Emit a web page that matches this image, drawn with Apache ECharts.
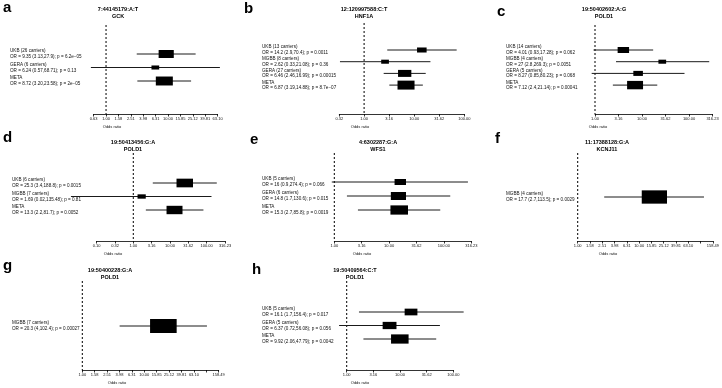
<!DOCTYPE html>
<html>
<head>
<meta charset="utf-8">
<script src="https://cdn.jsdelivr.net/npm/echarts@6/dist/echarts.min.js"></script>
<style>
html, body { margin: 0; padding: 0; background: #fff; }
#main { width: 722px; height: 388px; }
</style>
</head>
<body>
<div id="main"></div>
<script>
// ---- data ----
var panelLetters = ['a', 'b', 'c', 'd', 'e', 'f', 'g', 'h'];
var variants = ['7:44145179:A:T', '12:120997588:C:T', '19:50402602:A:G', '19:50413456:G:A',
                '4:6302287:G:A', '11:17388128:G:A', '19:50400228:G:A', '19:50409564:C:T'];
var genes = ['GCK', 'HNF1A', 'POLD1', 'POLD1', 'WFS1', 'KCNJ11', 'POLD1', 'POLD1'];

// a
var studiesA = ['UKB (26 carriers)', 'GERA (6 carriers)', 'META'];
var statsA = ['OR = 9.35 (3.13,27.9); p = 6.2e\u221205', 'OR = 6.24 (0.57,68.71); p = 0.13', 'OR = 8.72 (3.20,23.58); p = 2e\u221205'];
var orA = [9.35, 6.24, 8.72];
var lowA = [3.13, 0.57, 3.20];
var highA = [27.9, 68.71, 23.58];
var boxA = [0.57, 0.29, 0.64];
var ticksA = ['0.63', '1.00', '1.58', '2.51', '3.98', '6.31', '10.00', '15.85', '25.12', '39.81', '63.10'];
// b
var studiesB = ['UKB (13 carriers)', 'MGBB (8 carriers)', 'GERA (27 carriers)', 'META'];
var statsB = ['OR = 14.2 (2.9,70.4); p = 0.0011', 'OR = 2.62 (0.33,21.08); p = 0.36', 'OR = 6.46 (2.46,16.99); p = 0.00015', 'OR = 6.87 (3.19,14.88); p = 8.7e\u221207'];
var orB = [14.2, 2.62, 6.46, 6.87];
var lowB = [2.9, 0.33, 2.46, 3.19];
var highB = [70.4, 21.08, 16.99, 14.88];
var boxB = [0.36, 0.29, 0.5, 0.64];
var ticksB = ['0.32', '1.00', '3.16', '10.00', '31.62', '100.00'];
// c
var studiesC = ['UKB (14 carriers)', 'MGBB (4 carriers)', 'GERA (5 carriers)', 'META'];
var statsC = ['OR = 4.01 (0.93,17.28); p = 0.062', 'OR = 27 (2.8,269.3); p = 0.0051', 'OR = 8.27 (0.85,80.23); p = 0.068', 'OR = 7.12 (2.4,21.14); p = 0.00041'];
var orC = [4.01, 27, 8.27, 7.12];
var lowC = [0.93, 2.8, 0.85, 2.4];
var highC = [17.28, 269.3, 80.23, 21.14];
var boxC = [0.43, 0.29, 0.36, 0.6];
var ticksC = ['1.00', '3.16', '10.00', '31.62', '100.00', '316.23'];
// d
var studiesD = ['UKB (6 carriers)', 'MGBB (7 carriers)', 'META'];
var statsD = ['OR = 25.3 (3.4,188.8); p = 0.0015', 'OR = 1.69 (0.02,135.48); p = 0.81', 'OR = 13.3 (2.2,81.7); p = 0.0052'];
var orD = [25.3, 1.69, 13.3];
var lowD = [3.4, 0.02, 2.2];
var highD = [188.8, 135.48, 81.7];
var boxD = [0.62, 0.31, 0.6];
var ticksD = ['0.10', '0.32', '1.00', '3.16', '10.00', '31.62', '100.00', '316.23'];
// e
var studiesE = ['UKB (5 carriers)', 'GERA (6 carriers)', 'META'];
var statsE = ['OR = 16 (0.9,274.4); p = 0.066', 'OR = 14.8 (1.7,130.6); p = 0.015', 'OR = 15.3 (2.7,85.8); p = 0.0019'];
var orE = [16, 14.8, 15.3];
var lowE = [0.9, 1.7, 2.7];
var highE = [274.4, 130.6, 85.8];
var boxE = [0.43, 0.57, 0.66];
var ticksE = ['1.00', '3.16', '10.00', '31.62', '100.00', '316.23'];
// f
var studiesF = ['MGBB (4 carriers)'];
var statsF = ['OR = 17.7 (2.7,113.5); p = 0.0029'];
var orF = [17.7];
var lowF = [2.7];
var highF = [113.5];
var boxF = [0.95];
var ticksF = ['1.00', '1.58', '2.51', '3.98', '6.31', '10.00', '15.85', '25.12', '39.81', '63.10', '100.00', '158.49'];
// g
var studiesG = ['MGBB (7 carriers)'];
var statsG = ['OR = 20.3 (4,102.4); p = 0.00027'];
var orG = [20.3];
var lowG = [4];
var highG = [102.4];
var boxG = [1.0];
var ticksG = ['1.00', '1.58', '2.51', '3.98', '6.31', '10.00', '15.85', '25.12', '39.81', '63.10', '100.00', '158.49'];
// h
var studiesH = ['UKB (5 carriers)', 'GERA (5 carriers)', 'META'];
var statsH = ['OR = 16.1 (1.7,156.4); p = 0.017', 'OR = 6.37 (0.72,56.08); p = 0.056', 'OR = 9.92 (2.06,47.79); p = 0.0042'];
var orH = [16.1, 6.37, 9.92];
var lowH = [1.7, 0.72, 2.06];
var highH = [156.4, 56.08, 47.79];
var boxH = [0.48, 0.52, 0.66];
var ticksH = ['1.00', '3.16', '10.00', '31.62', '100.00'];
// tick labels that the figure leaves blank
var unlabeledTicks = ['', '', '', '', '', '100.00', '100.00', ''];

var panels = [
  {studies: studiesA, stats: statsA, or: orA, low: lowA, high: highA, box: boxA, ticks: ticksA},
  {studies: studiesB, stats: statsB, or: orB, low: lowB, high: highB, box: boxB, ticks: ticksB},
  {studies: studiesC, stats: statsC, or: orC, low: lowC, high: highC, box: boxC, ticks: ticksC},
  {studies: studiesD, stats: statsD, or: orD, low: lowD, high: highD, box: boxD, ticks: ticksD},
  {studies: studiesE, stats: statsE, or: orE, low: lowE, high: highE, box: boxE, ticks: ticksE},
  {studies: studiesF, stats: statsF, or: orF, low: lowF, high: highF, box: boxF, ticks: ticksF},
  {studies: studiesG, stats: statsG, or: orG, low: lowG, high: highG, box: boxG, ticks: ticksG},
  {studies: studiesH, stats: statsH, or: orH, low: lowH, high: highH, box: boxH, ticks: ticksH}
];

// ---- layout (pixels) ----
var layout = [
  {left: 93.6, right: 217.6, top: 25, axisY: 114, row1: 54, step: 13.5, textX: 10, titleX: 118, titleY: 9.5, letterX: 3, letterY: 8, oddsX: 112},
  {left: 339.3, right: 464.3, top: 23, axisY: 114, row1: 50, step: 11.7, textX: 262, titleX: 364, titleY: 9.5, letterX: 244, letterY: 9, oddsX: 360},
  {left: 595, right: 712.5, top: 25, axisY: 114, row1: 50, step: 11.7, textX: 506, titleX: 604, titleY: 9.5, letterX: 497, letterY: 12, oddsX: 598},
  {left: 96.6, right: 225, top: 153, axisY: 241, row1: 183, step: 13.5, textX: 12, titleX: 133, titleY: 142.5, letterX: 3, letterY: 138, oddsX: 113},
  {left: 334.3, right: 471.3, top: 153, axisY: 241, row1: 182, step: 14, textX: 262, titleX: 378, titleY: 142.5, letterX: 250, letterY: 140, oddsX: 362},
  {left: 577.7, right: 714, top: 153, axisY: 241, row1: 197, step: 14, textX: 506, titleX: 607, titleY: 142.5, letterX: 495, letterY: 139, oddsX: 608},
  {left: 82.3, right: 218.7, top: 281, axisY: 370, row1: 326, step: 14, textX: 12, titleX: 110, titleY: 270.5, letterX: 3, letterY: 266, oddsX: 117},
  {left: 346.7, right: 453.3, top: 281, axisY: 370, row1: 312, step: 13.5, textX: 262, titleX: 355, titleY: 270.5, letterX: 252, letterY: 270, oddsX: 360}
];

var FONT = '"Liberation Sans", Arial, Helvetica, sans-serif';
var BOX_MAX = 14;

function lg(v) { return Math.log10(v); }

var grid = [], xAxis = [], yAxis = [], series = [], graphic = [];

panels.forEach(function (p, k) {
  var L = layout[k];
  var tickVals = p.ticks.map(function (t) { return lg(parseFloat(t)); });
  var labelVals = p.ticks.filter(function (t) { return t !== unlabeledTicks[k]; })
                         .map(function (t) { return lg(parseFloat(t)); });

  grid.push({left: L.left, top: L.top, width: L.right - L.left, height: L.axisY - L.top});
  xAxis.push({
    type: 'value', gridIndex: k, position: 'bottom',
    min: tickVals[0], max: tickVals[tickVals.length - 1],
    splitLine: {show: false},
    axisLine: {show: true, onZero: false, lineStyle: {color: '#000', width: 0.8}},
    axisTick: {show: true, length: 2.5, customValues: tickVals, lineStyle: {color: '#000', width: 0.8}},
    axisLabel: {
      show: true, customValues: labelVals, fontSize: 4, margin: 2.5, color: '#111', fontFamily: FONT,
      formatter: function (v) {
        var best = p.ticks[0], d = 1e9;
        p.ticks.forEach(function (t) {
          var dd = Math.abs(lg(parseFloat(t)) - v);
          if (dd < d) { d = dd; best = t; }
        });
        return best;
      }
    }
  });
  yAxis.push({
    type: 'value', gridIndex: k, inverse: true, show: false,
    min: 1 - (L.row1 - L.top) / L.step,
    max: 1 + (L.axisY - L.row1) / L.step
  });

  var data = p.or.map(function (o, i) {
    return [lg(o), lg(p.low[i]), lg(p.high[i]), i + 1, p.box[i]];
  });

  series.push({
    type: 'custom', xAxisIndex: k, yAxisIndex: k, clip: false, silent: true,
    encode: {x: [0, 1, 2], y: 3},
    data: data,
    renderItem: function (params, api) {
      var row = api.value(3);
      var mid = api.coord([api.value(0), row]);
      var lo = api.coord([api.value(1), row]);
      var hi = api.coord([api.value(2), row]);
      var h = api.value(4) * BOX_MAX;
      var w = h * 1.9;
      var cs = params.coordSys;
      var i = params.dataIndex;
      var kids = [
        {type: 'line', shape: {x1: lo[0], y1: lo[1], x2: hi[0], y2: hi[1]},
         style: {stroke: '#1a1a1a', lineWidth: 1}},
        {type: 'rect', shape: {x: mid[0] - w / 2, y: mid[1] - h / 2, width: w, height: h},
         style: {fill: '#000'}},
        {type: 'text', x: L.textX, y: mid[1],
         style: {text: p.studies[i] + '\n' + p.stats[i], font: '4.6px ' + FONT, fill: '#111',
                 align: 'left', verticalAlign: 'middle', lineHeight: 5.6}}
      ];
      if (i === 0) {
        var x0 = api.coord([0, row])[0];
        kids.push({type: 'line', shape: {x1: x0, y1: cs.y, x2: x0, y2: cs.y + cs.height},
                   style: {stroke: '#000', lineWidth: 1, lineDash: [2, 2]}});
      }
      return {type: 'group', children: kids};
    }
  });

  graphic.push(
    {type: 'text', x: L.letterX, y: L.letterY,
     style: {text: panelLetters[k], font: 'bold 15px ' + FONT, fill: '#000', align: 'left', verticalAlign: 'middle'}},
    {type: 'text', x: L.titleX, y: L.titleY,
     style: {text: variants[k], font: 'bold 5.5px ' + FONT, fill: '#000', align: 'center', verticalAlign: 'middle'}},
    {type: 'text', x: L.titleX, y: L.titleY + 6.5,
     style: {text: genes[k], font: 'bold 5.5px ' + FONT, fill: '#000', align: 'center', verticalAlign: 'middle'}},
    {type: 'text', x: L.oddsX, y: L.axisY + 13,
     style: {text: 'Odds ratio', font: '4px ' + FONT, fill: '#111', align: 'center', verticalAlign: 'middle'}}
  );
});

var chart = echarts.init(document.getElementById('main'), null, {renderer: 'canvas'});
chart.setOption({
  animation: false,
  backgroundColor: '#fff',
  grid: grid,
  xAxis: xAxis,
  yAxis: yAxis,
  series: series,
  graphic: graphic
});
</script>
</body>
</html>
